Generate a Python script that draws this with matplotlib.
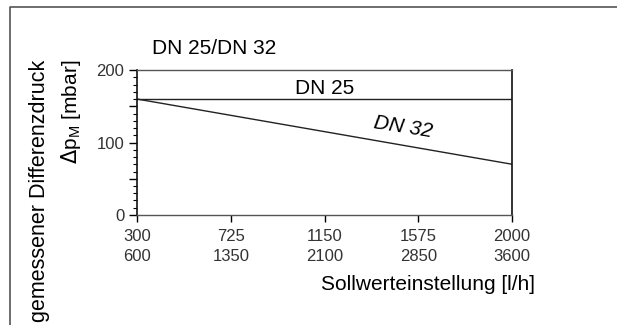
import matplotlib.pyplot as plt
from matplotlib.lines import Line2D

plt.rcParams['font.family'] = ['Liberation Sans', 'DejaVu Sans']

# Sollwerteinstellung, obere und untere Zeile der Achsbeschriftung
x_dn25 = [300, 725, 1150, 1575, 2000]
x_dn32 = [600, 1350, 2100, 2850, 3600]

# gemessener Differenzdruck [mbar]
x_lin = [300, 2000]
dp_dn25 = [160, 160]
dp_dn32 = [160, 70]

fig = plt.figure(figsize=(6.17, 3.25), dpi=100)
ax = fig.add_axes([0.222, 0.3385, 0.608, 0.446])

ax.plot(x_lin, dp_dn25, color='#222222', lw=1.0)
ax.plot(x_lin, dp_dn32, color='#222222', lw=1.0)

ax.set_xlim(300, 2000)
ax.set_ylim(0, 200)

ax.set_xticks(x_dn25)
ax.set_xticklabels([f'{a}\n{b}' for a, b in zip(x_dn25, x_dn32)],
                   fontsize=12, color='#333333', linespacing=1.45)
ax.set_yticks([0, 50, 100, 150, 200])
ax.set_yticklabels(['0', '', '100', '', '200'], fontsize=12, color='#333333')
ax.set_yticks(range(0, 201, 10), minor=True)
ax.tick_params(axis='y', which='major', length=6, width=1, pad=3)
ax.tick_params(axis='y', which='minor', length=3, width=0.8)
ax.tick_params(axis='x', which='major', length=5, width=1, pad=5)

for s in ('top', 'bottom'):
    ax.spines[s].set_color('#555555')
    ax.spines[s].set_linewidth(1.0)
for s in ('left', 'right'):
    ax.spines[s].set_color('#111111')
    ax.spines[s].set_linewidth(1.2)

ax.text(1150, 175, 'DN 25', fontsize=15, ha='center', va='center')
ax.text(1505, 121, 'DN 32', fontsize=15, style='italic', ha='center',
        va='center', rotation=-9)

fig.text(152 / 617, 1 - 49 / 325, 'DN 25/DN 32', fontsize=15, ha='left', va='center')
fig.text(40 / 617, 1 - 60 / 325, 'gemessener Differenzdruck', fontsize=15.5,
         rotation=90, ha='center', va='top')
fig.text(71 / 617, 1 - 60 / 325, r'$\Delta$p$_\mathregular{M}$ [mbar]', fontsize=15,
         rotation=90, ha='center', va='top')
fig.text(535 / 617, 1 - 284 / 325, 'Sollwerteinstellung [l/h]', fontsize=15,
         ha='right', va='center')

# Rahmen
fig.add_artist(Line2D([10 / 617, 10 / 617, 1.0], [0.0, 1 - 6.5 / 325, 1 - 6.5 / 325],
                      transform=fig.transFigure, color='#555555', lw=1.2))

fig.savefig('out.png', dpi=100)
